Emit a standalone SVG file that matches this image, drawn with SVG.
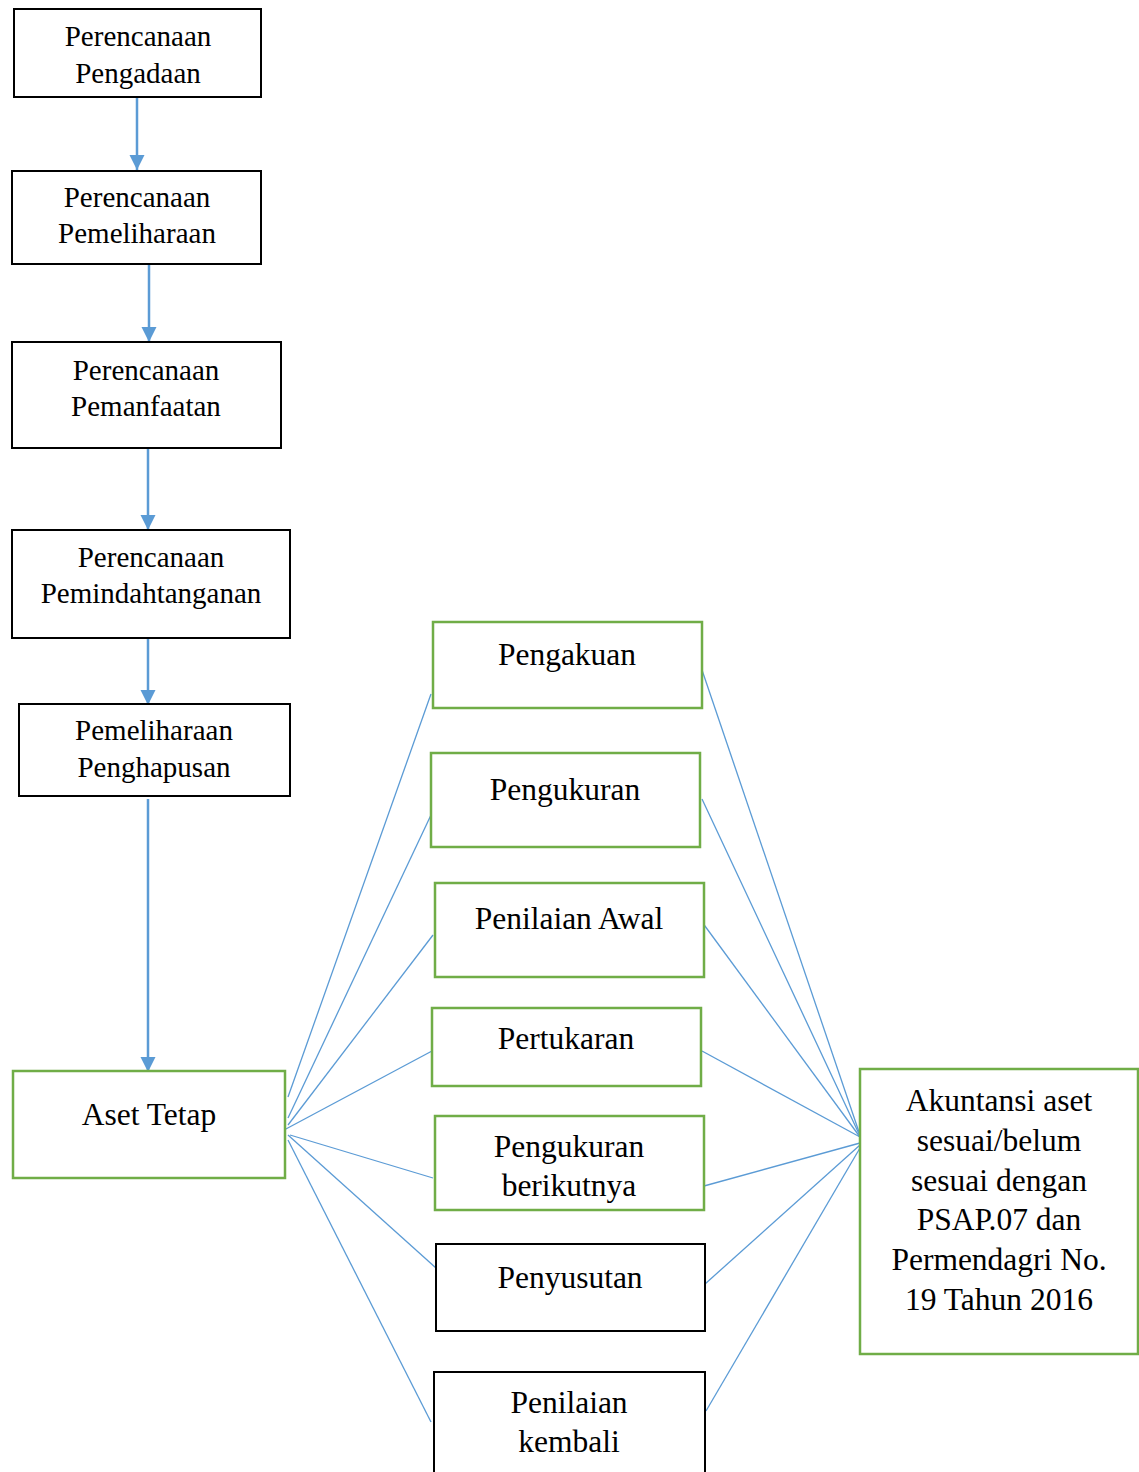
<svg xmlns="http://www.w3.org/2000/svg" width="1139" height="1472" viewBox="0 0 1139 1472">
<style>
.bk{fill:#fff;stroke:#000;stroke-width:2}
.gr{fill:#fff;stroke:#70ad47;stroke-width:2.5}
.t{font-family:"Liberation Serif","Times New Roman",serif;fill:#000;text-anchor:middle}
.s{font-size:29px}
.b{font-size:31.5px}
.arr{stroke:#5b9bd5;stroke-width:2.5;fill:none;marker-end:url(#ah)}
.ln{stroke:#5b9bd5;stroke-width:1.3;fill:none}
</style>
<defs>
<marker id="ah" markerUnits="userSpaceOnUse" markerWidth="16" markerHeight="16" viewBox="0 0 16 16" refX="15" refY="8" orient="auto">
<path d="M0,0.5 L15,8 L0,15.5 Z" fill="#5b9bd5"/>
</marker>
</defs>
<g id="connectors">
<line class="arr" x1="137" y1="97" x2="137" y2="170"/>
<line class="arr" x1="149" y1="264" x2="149" y2="342"/>
<line class="arr" x1="148" y1="448" x2="148" y2="530"/>
<line class="arr" x1="148" y1="638" x2="148" y2="705"/>
<line class="arr" x1="148" y1="799" x2="148" y2="1072"/>
<line class="ln" x1="288" y1="1097" x2="431" y2="694"/>
<line class="ln" x1="288" y1="1118" x2="431" y2="815"/>
<line class="ln" x1="288" y1="1125" x2="433" y2="935"/>
<line class="ln" x1="284" y1="1130" x2="432" y2="1051"/>
<line class="ln" x1="290" y1="1135" x2="433" y2="1178"/>
<line class="ln" x1="288" y1="1135" x2="436" y2="1268"/>
<line class="ln" x1="288" y1="1140" x2="431" y2="1422"/>
<line class="ln" x1="702" y1="670" x2="859" y2="1132"/>
<line class="ln" x1="702" y1="799" x2="860" y2="1136"/>
<line class="ln" x1="702" y1="922" x2="860" y2="1137"/>
<line class="ln" x1="702" y1="1051" x2="860" y2="1137"/>
<line class="ln" x1="704" y1="1186" x2="860" y2="1143"/>
<line class="ln" x1="705" y1="1284" x2="860" y2="1145"/>
<line class="ln" x1="706" y1="1411" x2="860" y2="1148"/>
</g>
<g id="n1"><rect class="bk" x="14" y="9" width="247" height="88"/>
<text class="t s" x="138" y="46">Perencanaan</text><text class="t s" x="138" y="83">Pengadaan</text></g>
<g id="n2"><rect class="bk" x="12" y="171" width="249" height="93"/>
<text class="t s" x="137" y="207">Perencanaan</text><text class="t s" x="137" y="243">Pemeliharaan</text></g>
<g id="n3"><rect class="bk" x="12" y="342" width="269" height="106"/>
<text class="t s" x="146" y="380">Perencanaan</text><text class="t s" x="146" y="416">Pemanfaatan</text></g>
<g id="n4"><rect class="bk" x="12" y="530" width="278" height="108"/>
<text class="t s" x="151" y="567">Perencanaan</text><text class="t s" x="151" y="603">Pemindahtanganan</text></g>
<g id="n5"><rect class="bk" x="19" y="704" width="271" height="92"/>
<text class="t s" x="154" y="740">Pemeliharaan</text><text class="t s" x="154" y="777">Penghapusan</text></g>
<g id="aset"><rect class="gr" x="13" y="1071" width="272" height="107"/>
<text class="t b" x="149" y="1125">Aset Tetap</text></g>
<g id="pengakuan"><rect class="gr" x="433" y="622" width="269" height="86"/>
<text class="t b" x="567" y="665">Pengakuan</text></g>
<g id="pengukuran"><rect class="gr" x="431" y="753" width="269" height="94"/>
<text class="t b" x="565" y="800">Pengukuran</text></g>
<g id="penilaianawal"><rect class="gr" x="435" y="883" width="269" height="94"/>
<text class="t b" x="569" y="929">Penilaian Awal</text></g>
<g id="pertukaran"><rect class="gr" x="432" y="1008" width="269" height="78"/>
<text class="t b" x="566" y="1049">Pertukaran</text></g>
<g id="pengukuranb"><rect class="gr" x="435" y="1116" width="269" height="94"/>
<text class="t b" x="569" y="1157">Pengukuran</text><text class="t b" x="569" y="1196">berikutnya</text></g>
<g id="penyusutan"><rect class="bk" x="436" y="1244" width="269" height="87"/>
<text class="t b" x="570" y="1288">Penyusutan</text></g>
<g id="penilaiank"><rect class="bk" x="434" y="1372" width="271" height="110"/>
<text class="t b" x="569" y="1413">Penilaian</text><text class="t b" x="569" y="1452">kembali</text></g>
<g id="akuntansi"><rect class="gr" x="860" y="1069" width="278" height="285"/>
<text class="t b" x="999" y="1111">Akuntansi aset</text>
<text class="t b" x="999" y="1151">sesuai/belum</text>
<text class="t b" x="999" y="1191">sesuai dengan</text>
<text class="t b" x="999" y="1230">PSAP.07 dan</text>
<text class="t b" x="999" y="1270">Permendagri No.</text>
<text class="t b" x="999" y="1310">19 Tahun 2016</text></g>
</svg>
